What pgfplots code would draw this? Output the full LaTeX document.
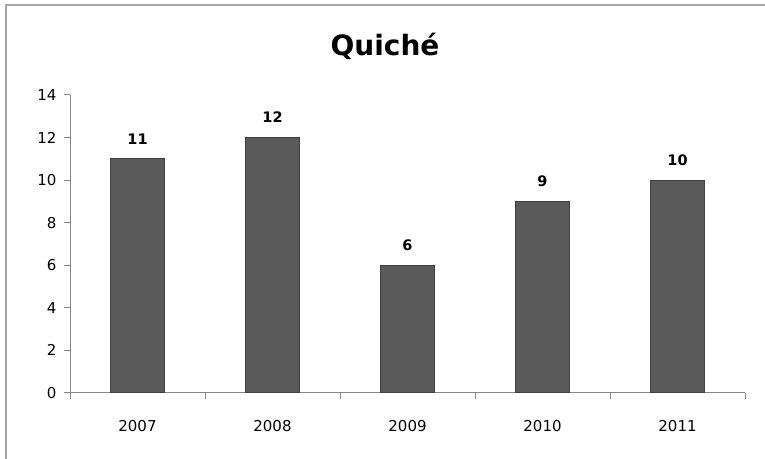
\documentclass[border=0pt]{standalone}
\usepackage{pgfplots}
\pgfplotsset{compat=1.18}
\usepackage{fontspec}
\setmainfont{DejaVu Sans}
\definecolor{barc}{HTML}{5A5A5A}
\definecolor{bard}{HTML}{404040}
\definecolor{axc}{HTML}{868686}
\definecolor{framec}{HTML}{A6A6A6}
\begin{document}
\begin{tikzpicture}[x=1bp,y=1bp]
\useasboundingbox (0,0) rectangle (765,459);
\draw[framec,line width=2bp] (6,0) -- (6,454) -- (765,454);
\node[font=\fontsize{28bp}{32bp}\selectfont\bfseries] at (385,413) {Quiché};
\begin{axis}[
  at={(70bp,66bp)}, anchor=south west,
  scale only axis, width=675bp, height=298bp,
  xmin=-0.5, xmax=4.5, ymin=0, ymax=14,
  axis lines*=left,
  axis line style={axc, line width=1bp},
  ytick={0,2,...,14},
  xtick={-0.5,0.5,1.5,2.5,3.5,4.5},
  xticklabels={2007,2008,2009,2010,2011,{}},
  tick style={axc, line width=1bp},
  tick align=outside,
  major tick length=6bp,
  ticklabel style={font=\fontsize{15bp}{17bp}\selectfont, text=black},
  yticklabel style={xshift=-4bp},
  xticklabel style={yshift=-18bp, xshift=67.5bp},
  /pgf/number format/assume math mode=true,
  ybar, bar width=54bp,
  nodes near coords,
  every node near coord/.append style={font=\fontsize{14.5bp}{16bp}\selectfont\bfseries, text=black, yshift=11bp},
  clip=false,
]
\addplot[fill=barc, draw=bard, line width=1bp] coordinates {(0,11) (1,12) (2,6) (3,9) (4,10)};
\end{axis}
\end{tikzpicture}
\end{document}
